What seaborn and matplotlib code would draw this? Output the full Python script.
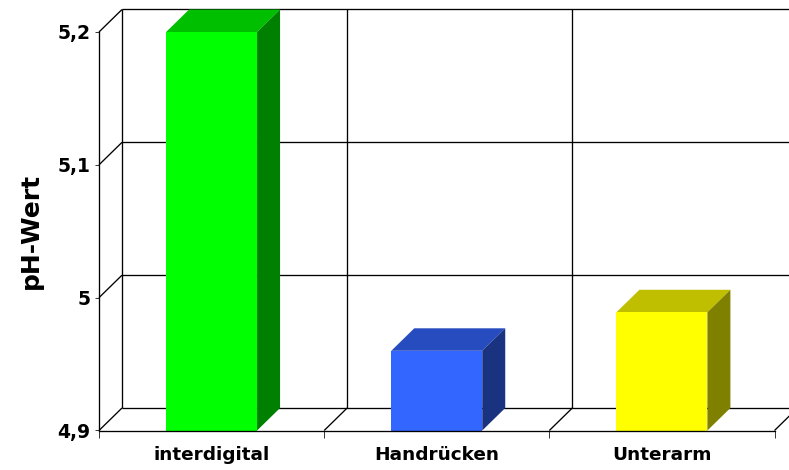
import matplotlib
matplotlib.use("Agg")
import matplotlib.pyplot as plt
import pandas as pd
import seaborn as sns
from matplotlib.patches import Polygon

categories = ["interdigital", "Handrücken", "Unterarm"]
values = [5.2, 4.96, 4.989]
front_colors = ["#00FF00", "#3366FF", "#FFFF00"]
top_colors = ["#00BF00", "#264CBF", "#BFBF00"]
side_colors = ["#008000", "#1A3380", "#808000"]
y_ticks = [4.9, 5.0, 5.1, 5.2]
y_labels = ["4,9", "5", "5,1", "5,2"]
y_title = "pH-Wert"

W, H = 789, 470
L, R, T, B = 99.0, 774.5, 32.0, 430.5
BAR_W = 0.404
DX = 23 / ((R - L) / 3)
DY = 22.5 / ((B - T) / 0.3)

sns.set_theme(style="white")
plt.rcParams["font.family"] = ["DejaVu Sans"]
fig = plt.figure(figsize=(W / 100, H / 100), dpi=100, facecolor="white")
ax = fig.add_axes([L / W, 1 - B / H, (R - L) / W, (B - T) / H])
df = pd.DataFrame({"Ort": categories, "pH": values})

sns.barplot(data=df, x="Ort", y="pH", hue="Ort", palette=front_colors, width=BAR_W,
            legend=False, ax=ax, saturation=1, linewidth=0, zorder=3, bottom=0)
ax.set_xlim(-0.5, 2.5)
ax.set_ylim(y_ticks[0], y_ticks[-1])

line = dict(color="black", lw=0.95, clip_on=False, zorder=1, solid_capstyle="butt")
xright = (W + 1 - L) / ((R - L) / 3) - 0.5
# back wall and floor/wall gridlines
for t in y_ticks:
    ax.plot([-0.5, -0.5 + DX], [t, t + DY], **line)
    ax.plot([-0.5 + DX, xright], [t + DY, t + DY], **line)
for i in range(3):
    ax.plot([i - 0.5 + DX] * 2, [y_ticks[0] + DY, y_ticks[-1] + DY], **line)
for i in range(1, 4):
    ax.plot([i - 0.5, i - 0.5 + DX], [y_ticks[0], y_ticks[0] + DY], **line)

# depth faces of each bar
for i, v in enumerate(values):
    x0, x1 = i - BAR_W / 2, i + BAR_W / 2
    ax.add_patch(Polygon([(x0, v), (x1, v), (x1 + DX, v + DY), (x0 + DX, v + DY)],
                         fc=top_colors[i], ec="none", clip_on=False, zorder=2))
    ax.add_patch(Polygon([(x1, y_ticks[0]), (x1, v), (x1 + DX, v + DY), (x1 + DX, y_ticks[0] + DY)],
                         fc=side_colors[i], ec="none", clip_on=False, zorder=2))

for s in ["top", "right"]:
    ax.spines[s].set_visible(False)
for s in ["left", "bottom"]:
    ax.spines[s].set_visible(True)
    ax.spines[s].set_color("black")
    ax.spines[s].set_linewidth(0.95)
    ax.spines[s].set_zorder(4)

ax.set_yticks(y_ticks, y_labels, fontsize=13.5, fontweight="bold", color="black")
ax.set_xticks([-0.5, 0.5, 1.5, 2.5], [""] * 4)
ax.tick_params(axis="y", left=True, length=3, width=0.7, color="#333333", pad=3)
ax.tick_params(axis="x", bottom=True, length=5, width=0.7, color="#333333")
for i, c in enumerate(categories):
    ax.annotate(c, (i, y_ticks[0]), xytext=(0, -25), textcoords="offset pixels",
                ha="center", va="center", fontsize=13.3,
                fontweight="bold", color="black", annotation_clip=False)
ax.set_xlabel("")
ax.set_ylabel("")
fig.text(31 / W, 1 - 231 / H, y_title, rotation=90, ha="center", va="center",
         fontsize=18, fontweight="bold", color="black")
fig.savefig("out.png", dpi=100, facecolor="white")
